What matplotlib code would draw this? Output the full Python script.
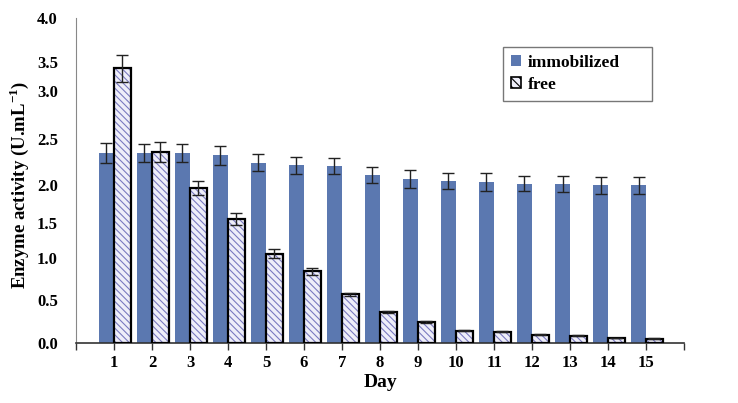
import numpy as np
import matplotlib
matplotlib.use('Agg')
import matplotlib.pyplot as plt
import matplotlib.patches as mpatches

days = list(range(1, 16))
immobilized = [2.34, 2.34, 2.34, 2.31, 2.22, 2.19, 2.18, 2.07, 2.02, 1.99, 1.98, 1.96, 1.96, 1.94, 1.94]
immobilized_err = [0.12, 0.11, 0.11, 0.12, 0.105, 0.105, 0.10, 0.10, 0.11, 0.10, 0.11, 0.09, 0.10, 0.10, 0.10]
free = [3.38, 2.35, 1.91, 1.53, 1.10, 0.88, 0.60, 0.38, 0.26, 0.15, 0.14, 0.10, 0.09, 0.06, 0.05]
free_err = [0.165, 0.12, 0.09, 0.075, 0.055, 0.04, 0.02, 0.01, 0.01, 0.005, 0.005, 0.005, 0.005, 0.005, 0.005]

# y tick labels sit at uneven heights in the original figure
ytick_pos = [0.0, 0.53, 1.05, 1.48, 1.945, 2.51, 3.10, 3.46, 4.0]
ytick_lab = ['0.0', '0.5', '1.0', '1.5', '2.0', '2.5', '3.0', '3.5', '4.0']

plt.rcParams['font.family'] = 'Liberation Serif'
plt.rcParams['font.weight'] = 'bold'
plt.rcParams['mathtext.fontset'] = 'custom'
plt.rcParams['mathtext.rm'] = 'Liberation Serif:bold'
plt.rcParams['hatch.linewidth'] = 0.8

fig = plt.figure(figsize=(7.38, 4.03), dpi=100)
ax = fig.add_axes([0.103, 0.149, 0.824, 0.806])

x = np.array(days)
blue = '#5b78b0'
ax.bar(x - 0.40, immobilized, width=0.40, align='edge', color=blue, edgecolor='none', zorder=2)
ax.bar(x + 0.22, free, width=0.44, color='#eeeef9', edgecolor='#7a7ac0',
       hatch='\\\\\\\\\\', linewidth=0, zorder=2)
ax.bar(x + 0.22, free, width=0.44, fill=False, edgecolor='black', linewidth=1.6, zorder=3)

ax.errorbar(x - 0.20, immobilized, yerr=immobilized_err, fmt='none', ecolor='#222222',
            elinewidth=1, capsize=4, capthick=1, zorder=4)
ax.errorbar(x + 0.22, free, yerr=free_err, fmt='none', ecolor='#222222',
            elinewidth=1, capsize=4, capthick=1, zorder=4)

ax.set_xlim(0, 16)
ax.set_ylim(0, 4.0)
ax.set_xticks(range(0, 17))
ax.set_xticklabels([''] + [str(d) for d in days] + [''], fontsize=12, fontweight='bold')
ax.tick_params(axis='x', direction='out', length=5, width=1, color='#333333', pad=4)
ax.set_yticks(ytick_pos)
ax.set_yticklabels(ytick_lab, fontsize=12, fontweight='bold')
ax.tick_params(axis='y', length=0, pad=13)

ax.spines['top'].set_visible(False)
ax.spines['right'].set_visible(False)
ax.spines['left'].set_color('#888888')
ax.spines['bottom'].set_color('#333333')
ax.spines['bottom'].set_linewidth(1.2)

ax.set_xlabel('Day', fontsize=14, fontweight='bold', labelpad=2)
fig.text(0.026, 0.54, 'Enzyme activity (U.mL$^{-1}$)', rotation=90, fontsize=13.5,
         fontweight='bold', ha='center', va='center')

h1 = mpatches.Patch(facecolor=blue, edgecolor='none', label='immobilized')
h2 = mpatches.Patch(facecolor='#eeeef9', edgecolor='black', hatch='\\\\\\\\', linewidth=1.2, label='free')
leg = ax.legend(handles=[h1, h2], loc='upper left', bbox_to_anchor=(0.702, 0.911, 0.245, 0.0),
                mode='expand', borderaxespad=0, fancybox=False, edgecolor='#555555',
                handlelength=0.6, handleheight=0.6, handletextpad=0.4, borderpad=0.45,
                labelspacing=0.35, prop={'weight': 'bold', 'size': 12.5})
leg._legend_box.align = 'left'
leg.get_frame().set_linewidth(1.0)

fig.savefig('out.png', dpi=100)
